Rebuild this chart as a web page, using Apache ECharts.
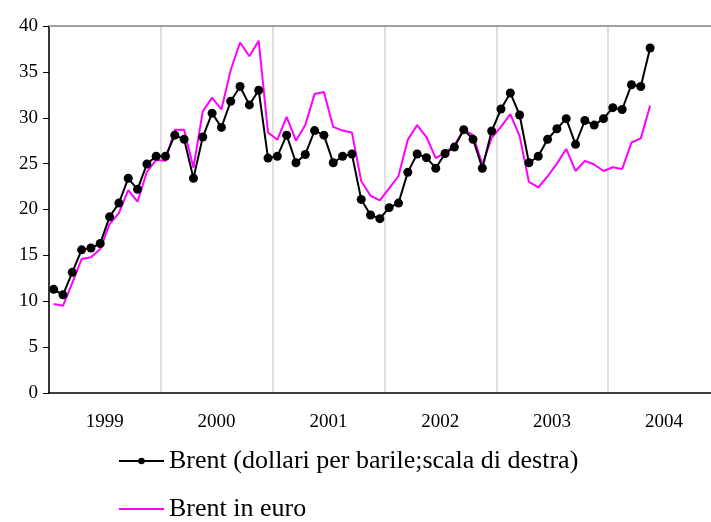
<!DOCTYPE html>
<html>
<head>
<meta charset="utf-8">
<script src="https://cdn.jsdelivr.net/npm/echarts@6/dist/echarts.min.js"></script>
<style>
  html, body { margin: 0; padding: 0; background: #fff; }
  #chart { width: 711px; height: 522px; }
</style>
</head>
<body>
<div id="chart"></div>
<script>
// monthly data, Jan 1999 - May 2004 (axis runs to Dec 2004)
const years = ['1999', '2000', '2001', '2002', '2003', '2004'];
const months = [];
years.forEach(y => {
  for (let m = 1; m <= 12; m++) months.push(y + '-' + String(m).padStart(2, '0'));
});

const brentUsd = [
  11.3, 10.7, 13.15, 15.6, 15.8, 16.3, 19.2, 20.7, 23.4, 22.2, 24.95, 25.8,
  25.8, 28.1, 27.65, 23.4, 27.9, 30.5, 28.95, 31.8, 33.4, 31.4, 33.0, 25.6,
  25.8, 28.1, 25.1, 26.0, 28.6, 28.1, 25.1, 25.8, 26.05, 21.1, 19.4, 19.0,
  20.2, 20.7, 24.05, 26.05, 25.65, 24.5, 26.1, 26.8, 28.7, 27.65, 24.5, 28.55,
  30.95, 32.7, 30.3, 25.1, 25.8, 27.65, 28.8, 29.9, 27.1, 29.7, 29.2, 29.9,
  31.1, 30.9, 33.6, 33.4, 37.6
];

const brentEur = [
  9.7, 9.5, 12.0, 14.6, 14.8, 15.7, 18.4, 19.6, 22.1, 20.85, 24.1, 25.4,
  25.3, 28.7, 28.7, 24.55, 30.7, 32.2, 30.9, 35.2, 38.2, 36.7, 38.4, 28.4,
  27.6, 30.1, 27.5, 29.2, 32.6, 32.8, 29.0, 28.6, 28.4, 23.1, 21.5, 21.0,
  22.3, 23.65, 27.6, 29.2, 27.9, 25.6, 26.2, 27.0, 28.7, 28.1, 24.9, 27.8,
  29.0, 30.4, 28.0, 23.0, 22.4, 23.6, 25.0, 26.6, 24.2, 25.3, 24.9, 24.2,
  24.6, 24.4, 27.3, 27.75, 31.3
];

const nameUsd = 'Brent (dollari per barile;scala di destra)';
const nameEur = 'Brent in euro';

const serif = '"Liberation Serif", "DejaVu Serif", serif';

const legendBase = {
  left: 113,
  itemWidth: 45,
  itemHeight: 8,
  itemGap: 8,
  textStyle: { fontFamily: serif, fontSize: 26, color: '#000' }
};

const chart = echarts.init(document.getElementById('chart'));
chart.setOption({
  animation: false,
  // plot runs past the right edge of the picture (2004 is cut off)
  grid: { left: 49, width: 671, top: 26, bottom: 129, outerBoundsMode: 'none' },
  xAxis: [
    {
      type: 'category',
      data: months,
      boundaryGap: true,
      axisLine: { lineStyle: { color: '#000', width: 1.5 } },
      axisTick: { interval: 11, length: 6, lineStyle: { color: '#000', width: 1 } },
      splitLine: { show: true, interval: 11, lineStyle: { color: '#d4d4d4', width: 1.5 } },
      axisLabel: {
        interval: (idx) => idx % 12 === 5,
        formatter: (v) => '{y|' + v.slice(0, 4) + '}',
        margin: 20,
        rich: { y: { fontFamily: serif, fontSize: 19, color: '#000', padding: [0, 0, 0, 9] } }
      }
    },
    {
      type: 'category',
      data: months,
      position: 'top',
      axisLine: { lineStyle: { color: '#a0a0a0', width: 2 } },
      axisTick: { show: false },
      axisLabel: { show: false }
    }
  ],
  yAxis: {
    type: 'value',
    min: 0,
    max: 40,
    interval: 5,
    axisLine: { show: true, lineStyle: { color: '#000', width: 1.5 } },
    axisTick: { show: true, length: 6, lineStyle: { color: '#000' } },
    splitLine: { show: false },
    axisLabel: { fontFamily: serif, fontSize: 19, color: '#000', margin: 11 }
  },
  legend: [
    Object.assign({}, legendBase, {
      top: 443,
      data: [{ name: nameUsd, itemStyle: { color: '#000' } }]
    }),
    Object.assign({}, legendBase, {
      top: 491,
      data: [{ name: nameEur, itemStyle: { opacity: 0 } }]
    })
  ],
  series: [
    {
      name: nameEur,
      type: 'line',
      data: brentEur,
      symbol: 'none',
      itemStyle: { color: '#ff00ff' },
      lineStyle: { color: '#ff00ff', width: 2 },
      z: 2
    },
    {
      name: nameUsd,
      type: 'line',
      data: brentUsd,
      symbol: 'circle',
      symbolSize: 9,
      showSymbol: true,
      showAllSymbol: true,
      itemStyle: { color: '#000' },
      lineStyle: { color: '#000', width: 2 },
      z: 3
    }
  ]
});
</script>
</body>
</html>
